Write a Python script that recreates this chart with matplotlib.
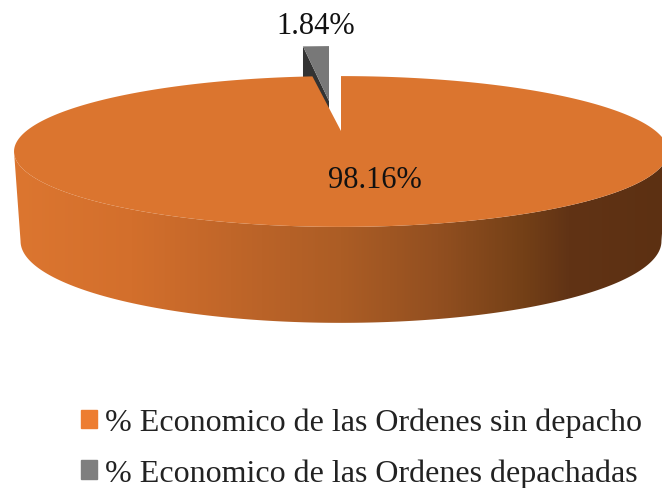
"""3D pie: share of the orders"""

import matplotlib
matplotlib.use("Agg")
import matplotlib.pyplot as plt
from matplotlib.colors import LinearSegmentedColormap
from matplotlib.patches import Patch, Polygon
import numpy as np

labels = ["% Economico de las Ordenes sin depacho", "% Economico de las Ordenes depachadas"]
values = [98.16, 1.84]
value_labels = ["98.16%", "1.84%"]

plt.rcParams["font.family"] = ["Liberation Serif", "DejaVu Serif"]

# pixel position of the pie centre and the perspective of the disc
cx, cy = 341, 132
dist = 3.68
fx, fy = 1158, 257
depth = 88
bottom_x, bottom_y = 0.98, 1.083


def project(t, sx=1.0, sy=1.0, drop=0.0):
    x, y = np.cos(t), np.sin(t)
    return cx + sx * fx * x / (dist + y), cy + drop - sy * fy * y / (dist + y)


def rim(start, stop, sx=1.0, sy=1.0, drop=0.0):
    t = np.radians(np.linspace(start, stop, 400))
    return np.column_stack(project(t, sx, sy, drop))


fig = plt.figure(figsize=(6.62, 4.89), dpi=100)
ax = fig.add_axes([0, 0, 1, 1])

sweep = 360 * values[1] / sum(values)
start = 90.0

# exploded grey slice, drawn first so the big slice covers it
shift_x, shift_y, squeeze = -12, -30, 0.91
r_left = np.array(project(np.radians(start + sweep)))
r_right = np.array(project(np.radians(start)))
def moved(p):
    return [cx + shift_x + squeeze * (p[0] - cx), p[1] + shift_y]
a = moved((cx, cy))
b = moved(r_left)
c = moved(r_right)
ax.add_patch(Polygon([b, a, [a[0], a[1] + depth], [b[0], b[1] + depth]], color="#333333", lw=0))
ax.add_patch(Polygon([b, c, a], color="#787878", lw=0))

# side wall of the big slice, shaded from left to right
edge = np.degrees(np.arcsin(1 / dist))
top_front = rim(180 + edge, 360 - edge)
bottom_front = rim(180 + edge, 360 - edge, bottom_x, bottom_y, depth)
wall = Polygon(np.vstack([top_front, bottom_front[::-1]]), transform=ax.transData, fc="none", lw=0)
ax.add_patch(wall)
shade = LinearSegmentedColormap.from_list(
    "wall",
    [(0, "#DC7630"), (0.18, "#D36F2C"), (0.38, "#BA6328"), (0.5, "#AC5D25"), (0.65, "#924F20"),
     (0.78, "#744017"), (0.85, "#613315"), (1, "#5C3012")],
)
img = ax.imshow(np.linspace(0, 1, 512).reshape(1, -1), cmap=shade, aspect="auto",
                extent=(14, 668, 340, 120), zorder=1)
img.set_clip_path(wall)

# top of the big slice
top = rim(start + sweep, start + 360)
ax.add_patch(Polygon(np.vstack([[cx, cy], top]), color="#DB752F", lw=0, zorder=2))

ax.text(375, 180, value_labels[0], ha="center", va="center", fontsize=22, color="#111111", zorder=3)
ax.text(316, 26, value_labels[1], ha="center", va="center", fontsize=22, color="#111111", zorder=3)

handles = [Patch(color="#ED7D31"), Patch(color="#7F7F7F")]
ax.legend(handles, labels, loc="upper left", bbox_to_anchor=(81 / 662, 1 - 409 / 489), frameon=False,
          fontsize=23, handlelength=0.5, handleheight=0.5, handletextpad=0.24,
          labelspacing=0.65, borderpad=0, borderaxespad=0, labelcolor="#222222")

ax.set_xlim(0, 662)
ax.set_ylim(489, 0)
ax.axis("off")
fig.savefig("out.png", dpi=100)
